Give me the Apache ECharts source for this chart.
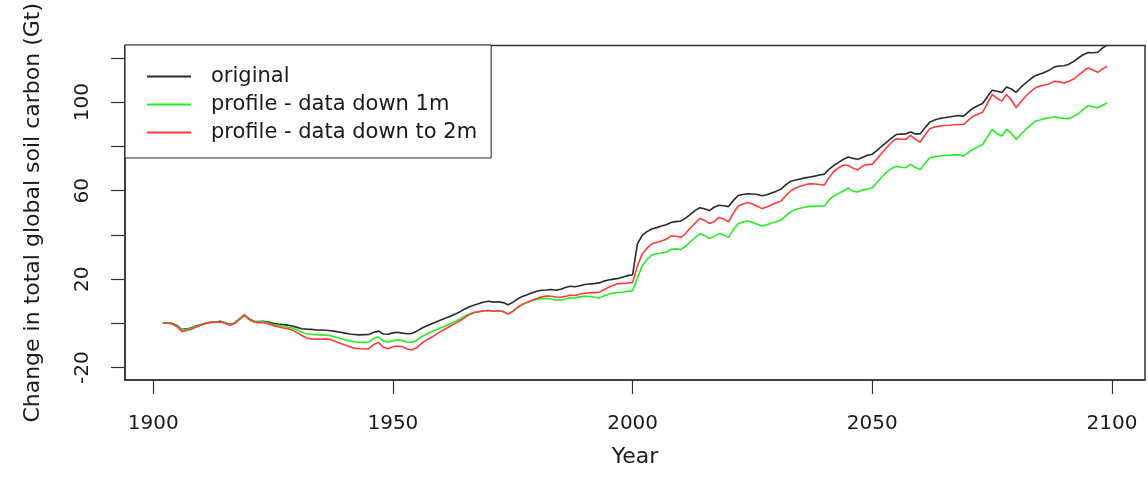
<!DOCTYPE html>
<html>
<head>
<meta charset="utf-8">
<title>Change in total global soil carbon</title>
<script src="https://cdn.jsdelivr.net/npm/echarts@6/dist/echarts.min.js"></script>
<style>
  html, body { margin: 0; padding: 0; background: #fff; }
  #chart { width: 1148px; height: 493px; }
</style>
</head>
<body>
<div id="chart"></div>
<script>
// Annual series, 1902-2099
const firstYear = 1902;
const lastYear = 2099;

const seriesNames = ['original', 'profile - data down 1m', 'profile - data down to 2m'];

// Tick positions and labelled ticks
const xTicks = [1900, 1950, 2000, 2050, 2100];
const yTicks = [-20, 0, 20, 40, 60, 80, 100, 120];
const yLabels = [-20, 20, 60, 100];

const original = [
  0.3, 0.2, 0.0, -1.0, -2.8, -2.5, -2.0, -1.2, -0.5, 0.2,            // 1902-1911
  0.5, 0.6, 0.9, 0.3, -0.5, 0.2, 2.0, 3.8, 2.0, 1.0,                 // 1912-1921
  0.8, 1.0, 0.6, 0.0, -0.3, -0.5, -0.8, -1.2, -1.8, -2.4,            // 1922-1931
  -2.6, -2.7, -3.0, -3.0, -3.1, -3.3, -3.6, -4.0, -4.4, -4.8,        // 1932-1941
  -5.0, -5.2, -5.1, -5.0, -4.0, -3.5, -4.8, -4.9, -4.3, -4.0,        // 1942-1951
  -4.4, -4.7, -4.5, -3.5, -2.2, -1.2, -0.3, 0.6, 1.5, 2.4,           // 1952-1961
  3.2, 4.2, 5.3, 6.5, 7.5, 8.3, 9.0, 9.7, 10.0, 9.6,                 // 1962-1971
  9.8, 9.4, 8.4, 9.5, 11.0, 12.2, 13.0, 13.8, 14.5, 15.0,            // 1972-1981
  15.1, 15.3, 15.0, 15.4, 16.2, 16.8, 16.6, 17.0, 17.6, 17.8,        // 1982-1991
  18.0, 18.3, 19.1, 19.6, 20.0, 20.3, 21.0, 21.6, 22.0, 36.0,        // 1992-2001
  39.8, 41.5, 42.7, 43.3, 44.0, 44.6, 45.6, 46.0, 46.3, 47.5,        // 2002-2011
  49.2, 51.0, 52.3, 51.8, 51.0, 52.5, 53.4, 53.2, 52.8, 55.5,        // 2012-2021
  57.8, 58.3, 58.6, 58.5, 58.3, 57.7, 58.2, 59.0, 59.8, 60.8,        // 2022-2031
  62.7, 64.3, 64.8, 65.3, 65.8, 66.2, 66.6, 67.1, 67.5, 69.8,        // 2032-2041
  71.5, 72.8, 74.2, 75.2, 74.6, 74.2, 75.1, 76.0, 76.5, 78.2,        // 2042-2051
  80.2, 82.0, 83.8, 85.4, 85.6, 85.7, 86.5, 85.6, 85.8, 88.5,        // 2052-2061
  91.0, 92.0, 92.6, 93.0, 93.3, 93.7, 94.0, 93.6, 95.5, 97.3,        // 2062-2071
  98.4, 99.4, 102.5, 105.4, 105.0, 104.4, 106.9, 106.0, 104.5, 106.8, // 2072-2081
  108.7, 110.5, 112.0, 112.8, 113.6, 114.6, 116.0, 116.4, 116.5, 117.2, // 2082-2091
  118.5, 120.0, 121.5, 122.5, 122.4, 122.6, 124.5, 126.0             // 2092-2099
];

const down1m = [
  0.3, 0.2, -0.2, -1.2, -3.0, -2.7, -2.2, -1.4, -0.6, 0.1,           // 1902-1911
  0.4, 0.5, 0.8, 0.2, -0.6, 0.1, 1.9, 3.7, 1.9, 0.8,                 // 1912-1921
  0.6, 0.7, 0.2, -0.5, -0.9, -1.2, -1.6, -2.1, -3.0, -4.0,           // 1922-1931
  -4.7, -5.0, -5.1, -5.2, -5.3, -5.6, -6.2, -6.8, -7.4, -7.9,        // 1932-1941
  -8.3, -8.5, -8.6, -8.4, -6.8, -6.2, -7.9, -8.5, -7.8, -7.4,        // 1942-1951
  -7.8, -8.4, -8.5, -7.6, -6.0, -4.9, -3.8, -2.9, -2.0, -1.2,        // 1952-1961
  -0.2, 0.9, 2.0, 3.3, 4.3, 5.0, 5.4, 5.7, 5.8, 5.5,                 // 1962-1971
  5.7, 5.4, 4.3, 5.5, 7.2, 8.5, 9.4, 10.2, 10.8, 11.2,               // 1972-1981
  11.3, 11.0, 10.6, 10.5, 11.0, 11.6, 11.5, 12.0, 12.3, 12.2,        // 1982-1991
  11.8, 11.5, 12.4, 13.2, 13.7, 14.0, 14.2, 14.5, 14.8, 20.5,        // 1992-2001
  26.0, 29.0, 30.9, 31.5, 31.8, 32.2, 33.4, 33.7, 33.3, 34.8,        // 2002-2011
  36.8, 38.8, 40.5, 39.8, 38.5, 39.2, 40.6, 40.0, 38.9, 42.3,        // 2012-2021
  45.0, 45.8, 46.3, 45.6, 44.8, 44.0, 44.6, 45.4, 46.0, 46.8,        // 2022-2031
  48.7, 50.5, 51.5, 52.1, 52.6, 52.9, 53.0, 53.1, 53.1, 55.8,        // 2032-2041
  57.6, 58.8, 60.0, 61.2, 59.7, 59.4, 60.4, 60.6, 61.4, 63.8,        // 2042-2051
  66.2, 68.5, 70.0, 71.0, 70.6, 70.4, 71.9, 70.5, 69.6, 72.4,        // 2052-2061
  74.9, 75.4, 75.7, 75.9, 76.0, 76.2, 76.3, 75.7, 77.2, 78.7,        // 2062-2071
  79.8, 80.9, 84.3, 87.7, 85.8, 84.7, 87.7, 86.0, 83.2, 85.5,        // 2072-2081
  87.7, 89.6, 91.4, 92.0, 92.6, 93.0, 93.4, 93.0, 92.7, 92.5,        // 2082-2091
  93.6, 94.9, 96.8, 98.5, 98.0, 97.5, 98.6, 99.7                     // 2092-2099
];

const downTo2m = [
  0.3, 0.2, -0.3, -1.5, -3.6, -3.2, -2.6, -1.6, -0.7, 0.0,           // 1902-1911
  0.4, 0.5, 0.8, 0.1, -0.8, 0.0, 1.8, 3.6, 1.8, 0.6,                 // 1912-1921
  0.3, 0.3, -0.2, -1.0, -1.5, -2.0, -2.4, -3.0, -4.2, -5.5,          // 1922-1931
  -6.6, -7.0, -7.1, -7.2, -7.0, -7.3, -8.2, -9.0, -9.8, -10.6,       // 1932-1941
  -11.2, -11.5, -11.6, -11.4, -9.5, -8.6, -10.8, -11.5, -10.6, -10.2, // 1942-1951
  -10.6, -11.6, -11.9, -11.0, -9.0, -7.6, -6.4, -5.0, -3.6, -2.4,    // 1952-1961
  -1.2, 0.0, 1.2, 2.6, 4.0, 4.9, 5.3, 5.7, 5.8, 5.5,                 // 1962-1971
  5.7, 5.4, 4.2, 5.4, 7.2, 8.6, 9.5, 10.5, 11.2, 12.0,               // 1972-1981
  12.4, 12.3, 11.9, 11.8, 12.2, 12.8, 12.6, 13.2, 13.6, 13.8,        // 1982-1991
  13.9, 14.0, 15.2, 16.3, 17.2, 18.0, 18.1, 18.2, 18.5, 26.0,        // 1992-2001
  31.3, 34.0, 36.0, 36.6, 37.2, 38.0, 39.6, 39.4, 38.9, 40.5,        // 2002-2011
  43.0, 45.2, 47.4, 46.6, 45.2, 46.0, 47.9, 47.2, 45.9, 49.8,        // 2012-2021
  53.0, 54.0, 54.7, 54.0, 53.0, 51.9, 52.6, 53.6, 54.5, 55.4,        // 2022-2031
  57.8, 60.0, 61.2, 62.0, 62.7, 63.2, 63.0, 62.8, 62.6, 66.0,        // 2032-2041
  68.8, 70.4, 71.6, 71.4, 70.2, 69.4, 71.2, 71.8, 72.0, 74.5,        // 2042-2051
  77.0, 79.5, 81.8, 83.5, 83.3, 83.2, 85.0, 83.2, 82.0, 85.3,        // 2052-2061
  88.0, 88.8, 89.2, 89.5, 89.6, 89.8, 89.9, 89.9, 91.8, 93.7,        // 2062-2071
  94.6, 95.5, 99.5, 103.5, 101.8, 100.5, 103.5, 101.0, 97.5, 100.3,  // 2072-2081
  102.7, 104.8, 106.5, 107.3, 107.8, 108.4, 109.5, 109.2, 108.7, 109.5, // 2082-2091
  110.5, 112.3, 114.0, 115.5, 114.6, 113.5, 115.0, 116.2             // 2092-2099
];

const years = [];
for (let y = firstYear; y <= lastYear; y++) years.push(y);

const pairs = (vals) => years.map((yr, i) => [yr, vals[i]]);

// Axis ranges padded 4% beyond the data span on each side
const xPad = (lastYear - firstYear) * 0.04;
const yMinData = -20, yMaxData = 120;
const yPad = (yMaxData - yMinData) * 0.04;

const font = 'DejaVu Sans';
const ink = '#1a1a1a';
const frame = '#333';
const plain = (v) => String(v);

const chart = echarts.init(document.getElementById('chart'), null, { renderer: 'canvas' });

chart.setOption({
  animation: false,
  backgroundColor: '#ffffff',
  grid: {
    left: 125, right: 3, top: 45, bottom: 113,
    show: true, borderColor: frame, borderWidth: 1.5, backgroundColor: 'transparent'
  },
  legend: {
    orient: 'vertical',
    left: 125, top: 45,
    padding: [21, 14, 15, 21],
    itemWidth: 44, itemHeight: 14, itemGap: 7,
    backgroundColor: '#ffffff',
    borderColor: '#222', borderWidth: 1,
    borderRadius: 0,
    data: seriesNames,
    itemStyle: { opacity: 0 },
    textStyle: { fontFamily: font, fontSize: 21, lineHeight: 21, color: ink, padding: [0, 0, 0, 15] }
  },
  xAxis: {
    type: 'value',
    min: firstYear - xPad,
    max: lastYear + xPad,
    name: 'Year',
    nameLocation: 'middle',
    nameGap: 66,
    nameTextStyle: { fontFamily: font, fontSize: 22, color: ink },
    axisLine: { show: true, onZero: false, lineStyle: { color: frame, width: 1.5 } },
    axisTick: { show: true, inside: false, length: 14, customValues: xTicks, lineStyle: { color: frame, width: 1.2 } },
    axisLabel: { customValues: xTicks, formatter: plain, margin: 34, fontFamily: font, fontSize: 20, color: ink },
    splitLine: { show: false }
  },
  yAxis: {
    type: 'value',
    min: yMinData - yPad,
    max: yMaxData + yPad,
    name: 'Change in total global soil carbon (Gt)',
    nameLocation: 'middle',
    nameRotate: 90,
    nameGap: 81,
    nameTextStyle: { fontFamily: font, fontSize: 22, color: ink },
    axisLine: { show: true, onZero: false, lineStyle: { color: frame, width: 1.5 } },
    axisTick: { show: true, inside: false, length: 14, customValues: yTicks, lineStyle: { color: frame, width: 1.2 } },
    axisLabel: { customValues: yLabels, formatter: plain, rotate: 90, margin: 32, fontFamily: font, fontSize: 20, color: ink },
    splitLine: { show: false }
  },
  series: [
    { name: seriesNames[0], type: 'line', data: pairs(original), symbol: 'none', clip: true,
      lineStyle: { color: '#2a2a2a', width: 1.6 }, itemStyle: { color: '#2a2a2a' } },
    { name: seriesNames[1], type: 'line', data: pairs(down1m), symbol: 'none', clip: true,
      lineStyle: { color: '#22ee22', width: 1.6 }, itemStyle: { color: '#22ee22' } },
    { name: seriesNames[2], type: 'line', data: pairs(downTo2m), symbol: 'none', clip: true,
      lineStyle: { color: '#ff3b3b', width: 1.6 }, itemStyle: { color: '#ff3b3b' } }
  ]
});
</script>
</body>
</html>
